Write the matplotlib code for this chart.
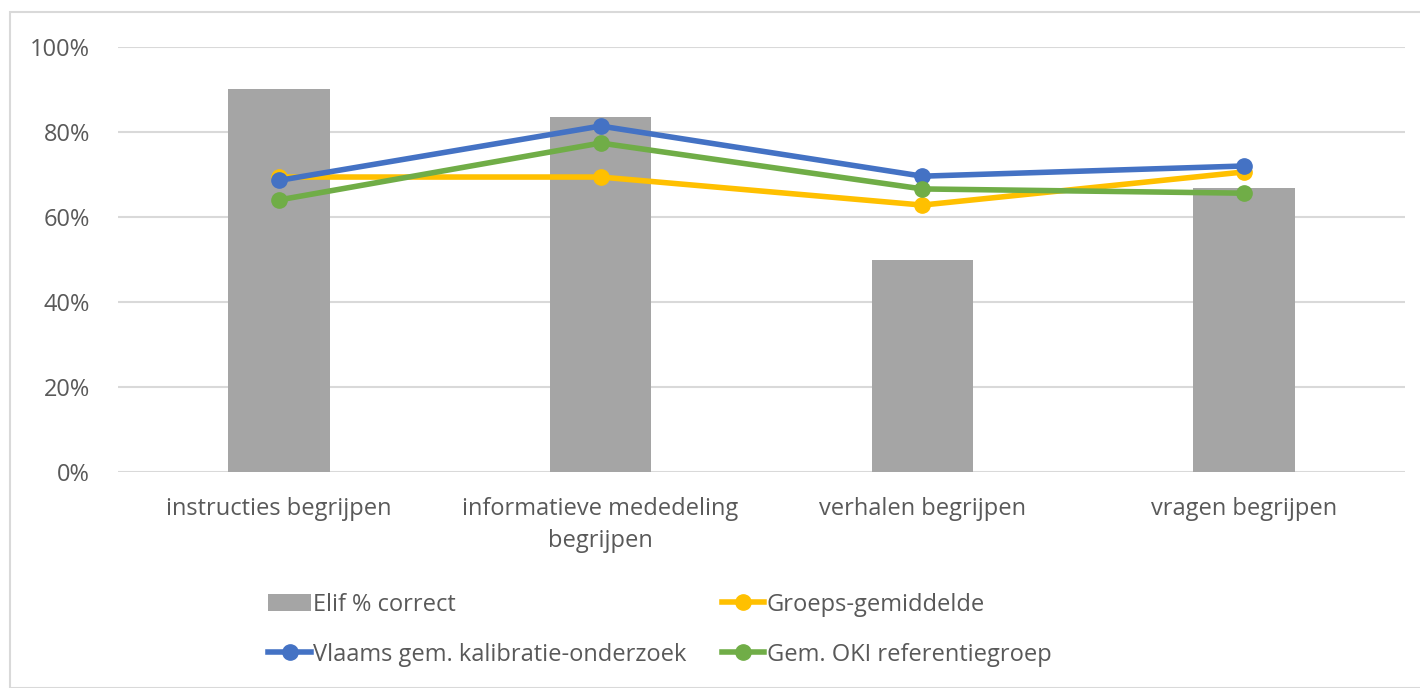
import matplotlib
matplotlib.use('Agg')
import matplotlib.pyplot as plt
from matplotlib.patches import Rectangle
from matplotlib.ticker import PercentFormatter
import numpy as np

# data
categories = ['instructies begrijpen', 'informatieve mededeling\nbegrijpen',
              'verhalen begrijpen', 'vragen begrijpen']
elif_correct = [90.1, 83.5, 49.9, 66.8]
groeps_gem = [69.4, 69.4, 62.8, 70.6]
vlaams_gem = [68.6, 81.4, 69.6, 72.0]
oki_ref = [64.0, 77.4, 66.6, 65.6]
y_ticks = [0, 20, 40, 60, 80, 100]

plt.rcParams['font.family'] = ['Open Sans', 'DejaVu Sans']
text_col = '#595959'

fig = plt.figure(figsize=(14.2, 6.88), dpi=100)
fig.patches.append(Rectangle((10 / 1420, 0), 1.2, 1 - 12 / 688, transform=fig.transFigure,
                             fill=False, edgecolor='#d9d9d9', linewidth=1.5))
ax = fig.add_axes([0.0831, 0.314, 0.9063, 0.6177])

x = np.arange(len(categories))
bars = ax.bar(x, elif_correct, width=0.315, color='#A5A5A5', zorder=2,
              label='Elif % correct')
l1, = ax.plot(x, groeps_gem, color='#FFC000', lw=4, marker='o', ms=11,
              zorder=3, label='Groeps-gemiddelde')
l2, = ax.plot(x, vlaams_gem, color='#4472C4', lw=4, marker='o', ms=11,
              zorder=4, label='Vlaams gem. kalibratie-onderzoek')
l3, = ax.plot(x, oki_ref, color='#70AD47', lw=4, marker='o', ms=11,
              zorder=5, label='Gem. OKI referentiegroep')

ax.set_xlim(-0.5, len(categories) - 0.5)
ax.set_ylim(0, 100)
ax.set_yticks(y_ticks)
ax.yaxis.set_major_formatter(PercentFormatter(decimals=0))
ax.set_xticks(x)
ax.set_xticklabels(categories, fontsize=17, color=text_col, linespacing=1.45)
ax.tick_params(axis='y', labelsize=17, labelcolor=text_col, length=0, pad=20)
ax.tick_params(axis='x', length=0, pad=18)
ax.grid(axis='y', color='#d9d9d9', lw=1.5, zorder=0)
for s in ax.spines.values():
    s.set_visible(False)

leg = fig.legend([bars, l2, l1, l3],
                 ['Elif % correct', 'Vlaams gem. kalibratie-onderzoek',
                  'Groeps-gemiddelde', 'Gem. OKI referentiegroep'],
                 ncol=2, loc='center left', bbox_to_anchor=(0.174, 0.085),
                 frameon=False, fontsize=17, labelcolor=text_col,
                 handlelength=1.8, handletextpad=0.1, columnspacing=1.5,
                 labelspacing=1.1)

fig.savefig('out.png', dpi=100)
